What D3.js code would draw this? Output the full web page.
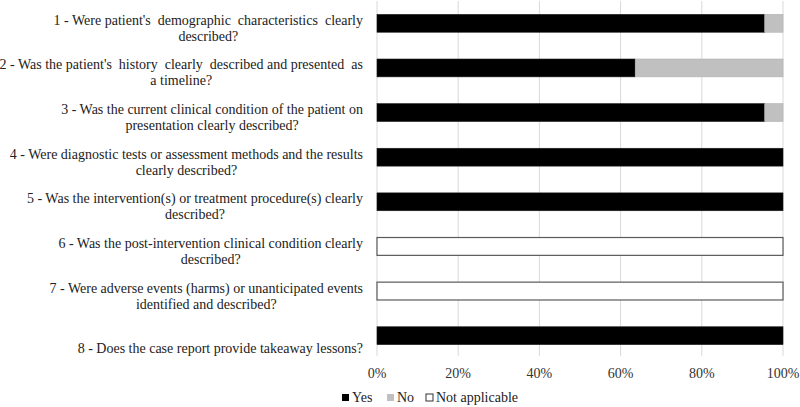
<!DOCTYPE html>
<html><head><meta charset="utf-8">
<script src="https://cdn.jsdelivr.net/npm/d3@7"></script>
<style>body{margin:0;background:#fff}svg{display:block}</style>
</head><body><svg id="c" width="800" height="407" font-family="Liberation Serif"></svg>
<script>
const categories = [
  ["1 - Were patient's  demographic  characteristics  clearly", "described?"],
  ["2 - Was the patient's  history  clearly  described and presented  as", "a timeline?"],
  ["3 - Was the current clinical condition of the patient on", "presentation clearly described?"],
  ["4 - Were diagnostic tests or assessment methods and the results", "clearly described?"],
  ["5 - Was the intervention(s) or treatment procedure(s) clearly", "described?"],
  ["6 - Was the post-intervention clinical condition clearly", "described?"],
  ["7 - Were adverse events (harms) or unanticipated events", "identified and described?"],
  ["8 - Does the case report provide takeaway lessons?"]
];
const seriesNames = ["Yes", "No", "Not applicable"];
const yesValues = [95.5, 63.6, 95.5, 100, 100, 0, 0, 100];
const noValues = [4.5, 36.4, 4.5, 0, 0, 0, 0, 0];
const naValues = [0, 0, 0, 0, 0, 100, 100, 0];
const tickValues = [0, 20, 40, 60, 80, 100];

const colors = ["#000000", "#c0c0c0", "#ffffff"];
const strokes = ["#1a1a1a", "#b0b0b0", "#5a5a5a"];

const svg = d3.select("#c");
const x = d3.scaleLinear().domain([0, 100]).range([377, 783]);
const y = d3.scaleBand().domain(d3.range(categories.length)).range([1, 358]).paddingInner(0.6).paddingOuter(0.3);

svg.append("g").selectAll("line").data(tickValues).join("line")
  .attr("x1", d => x(d)).attr("x2", d => x(d))
  .attr("y1", 1).attr("y2", 356)
  .attr("stroke", "#d9d9d9").attr("stroke-width", 1);

const rows = categories.map((c, i) => [yesValues[i], noValues[i], naValues[i]]);
const stacked = d3.stack().keys([0, 1, 2])(rows);

const g = svg.append("g");
stacked.forEach((s, k) => {
  g.selectAll(null).data(s.map((d, i) => ({d, i}))).join("rect")
    .filter(o => o.d[1] - o.d[0] > 0)
    .attr("x", o => x(o.d[0]))
    .attr("y", o => y(o.i))
    .attr("width", o => x(o.d[1]) - x(o.d[0]))
    .attr("height", y.bandwidth())
    .attr("fill", colors[k])
    .attr("stroke", strokes[k]).attr("stroke-width", k === 2 ? 1.2 : 0.6);
});

const lab = svg.append("g").attr("font-size", 14).attr("fill", "#222");
categories.forEach((lines, i) => {
  const cy = y(i) + y.bandwidth() / 2;
  const t = lab.append("text").attr("text-anchor", "middle").style("white-space", "pre");
  const tmp = lines.map(l => t.append("tspan").text(l));
  let maxW = 0;
  tmp.forEach(s => { maxW = Math.max(maxW, s.node().getComputedTextLength()); });
  const cx = 363 - maxW / 2;
  const n = lines.length;
  tmp.forEach((s, j) => {
    s.attr("x", cx).attr("y", cy + 17.5 - (n - 1 - j) * 16);
  });
});

svg.append("g").attr("font-size", 14).attr("fill", "#333")
  .selectAll("text").data(tickValues).join("text")
  .attr("x", d => x(d)).attr("y", 378).attr("text-anchor", "middle")
  .text(d => d + "%");

const leg = svg.append("g").attr("font-size", 14).attr("fill", "#222");
const legX = [342, 387, 426];
seriesNames.forEach((n, k) => {
  leg.append("rect").attr("x", legX[k]).attr("y", 394).attr("width", 7).attr("height", 7)
    .attr("fill", colors[k]).attr("stroke", k === 2 ? "#333" : "none").attr("stroke-width", 1);
  leg.append("text").attr("x", legX[k] + 10).attr("y", 402).text(n);
});
</script></body></html>
